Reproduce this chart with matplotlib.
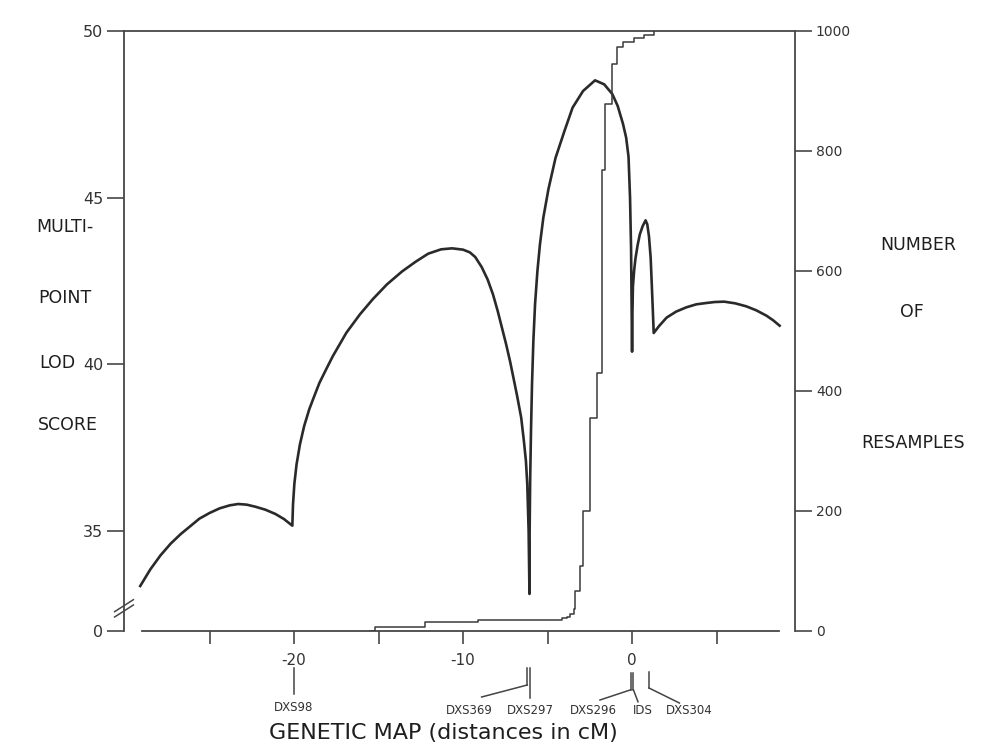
import numpy as np
import matplotlib.pyplot as plt

# multipoint LOD score along the map, one piece per marker interval (cM, LOD)
lod_x_1 = [-29.1, -28.5, -27.9, -27.3, -26.7, -26.1, -25.6, -25.0, -24.4, -23.8,
           -23.3, -22.8, -22.3, -21.7, -21.1, -20.6, -20.1]
lod_y_1 = [33.35, 33.85, 34.27, 34.62, 34.91, 35.16, 35.37, 35.54, 35.68, 35.77,
           35.81, 35.79, 35.73, 35.64, 35.51, 35.36, 35.16]
lod_x_2 = [-20.06, -19.98, -19.85, -19.65, -19.4, -19.1, -18.8, -18.5, -18.1, -17.7,
           -16.9, -16.1, -15.33, -14.5, -13.6, -12.8, -12.06, -11.3, -10.65, -10.0,
           -9.6, -9.28, -8.9, -8.55, -8.23, -7.95, -7.7, -7.45, -7.21, -7.0,
           -6.8, -6.56, -6.4, -6.28, -6.2, -6.12, -6.07]
lod_y_2 = [35.8, 36.42, 37.0, 37.6, 38.15, 38.65, 39.05, 39.44, 39.85, 40.25,
           40.95, 41.5, 41.96, 42.4, 42.79, 43.08, 43.32, 43.45, 43.48, 43.44,
           43.36, 43.22, 42.92, 42.55, 42.1, 41.6, 41.1, 40.6, 40.07, 39.55,
           39.05, 38.4, 37.7, 37.1, 36.4, 35.0, 33.11]
lod_x_3 = [-6.07, -6.06, -6.03, -5.98, -5.92, -5.84, -5.74, -5.6, -5.45, -5.25,
           -4.95, -4.53, -4.0, -3.52, -2.9, -2.19, -1.65, -1.17, -0.85, -0.54,
           -0.35, -0.21, -0.12, -0.06, 0.0]
lod_y_3 = [34.3, 35.0, 36.5, 38.0, 39.4, 40.7, 41.8, 42.8, 43.6, 44.4,
           45.25, 46.19, 47.0, 47.70, 48.2, 48.52, 48.4, 48.11, 47.75, 47.22,
           46.8, 46.23, 45.0, 43.5, 40.38]
lod_x_4 = [0.02, 0.05, 0.12, 0.2, 0.33, 0.46, 0.63, 0.8, 0.9, 1.0, 1.1, 1.17, 1.23, 1.28]
lod_y_4 = [41.5, 42.33, 42.8, 43.17, 43.58, 43.90, 44.15, 44.32, 44.2, 43.84, 43.2,
           42.35, 41.6, 40.94]
lod_x_5 = [1.6, 2.04, 2.6, 3.21, 3.8, 4.39, 4.9, 5.45, 6.1, 6.76, 7.35, 7.95, 8.35, 8.73]
lod_y_5 = [41.15, 41.40, 41.58, 41.71, 41.80, 41.84, 41.87, 41.88, 41.83, 41.74,
           41.62, 41.46, 41.32, 41.16]

# cumulative number of resamples (right axis)
resample_cm = [-15.5, -15.2, -12.25, -9.1, -4.14, -3.85, -3.67, -3.45, -3.38, -3.08,
               -2.9, -2.47, -2.05, -1.79, -1.63, -1.2, -0.92, -0.51, 0.13, 0.72, 1.31]
resample_n = [0, 6, 15, 19, 21, 24, 29, 37, 66, 108,
              200, 355, 430, 768, 878, 945, 974, 982, 988, 993, 1000]

x_ticks = [-25, -20, -15, -10, -5, 0, 5]
x_ticklabels = ['', '-20', '', '-10', '', '0', '']
lod_ticks = [32, 35, 40, 45, 50]      # 32 is where the broken axis reads 0
lod_ticklabels = ['0', '35', '40', '45', '50']
n_ticks = [0, 200, 400, 600, 800, 1000]

# markers under the axis: name, label x (cM)
marker_names = ['DXS98', 'DXS369', 'DXS297', 'DXS296', 'IDS', 'DXS304']
marker_label_x = [-20.0, -9.6, -6.0, -2.3, 0.65, 3.4]

W, H = 981, 754
ink = '#2a2a2a'
axc = '#474747'

fig = plt.figure(figsize=(W / 100, H / 100), dpi=100)
ax = fig.add_axes([124 / W, 1 - 631 / H, 671 / W, 600 / H])
ax2 = ax.twinx()

lod_x = lod_x_1 + lod_x_2 + lod_x_3 + lod_x_4 + lod_x_5
lod_y = lod_y_1 + lod_y_2 + lod_y_3 + lod_y_4 + lod_y_5
ax.plot(lod_x, lod_y, color=ink, lw=1.9, solid_joinstyle='round')
ax2.plot(resample_cm, resample_n, color='#3a3a3a', lw=1.1, drawstyle='steps-post')

ax.set_xlim(-30.06, 9.64)
ax.set_ylim(32, 50)
ax2.set_ylim(0, 1000)

for s in ['top', 'left', 'bottom']:
    ax.spines[s].set_color(axc)
    ax.spines[s].set_linewidth(1.3)
ax.spines['right'].set_visible(False)
ax.spines['bottom'].set_bounds(-29.0, 8.7)
for s in ['top', 'left', 'bottom']:
    ax2.spines[s].set_visible(False)
ax2.spines['right'].set_color(axc)
ax2.spines['right'].set_linewidth(1.3)

ax.set_xticks(x_ticks, x_ticklabels)
ax.set_yticks(lod_ticks, lod_ticklabels)
ax2.set_yticks(n_ticks, [str(v) for v in n_ticks])
ax.tick_params(axis='x', direction='out', length=9, width=1.2, pad=7,
               labelsize=11, color=axc, labelcolor='#333333')
ax.tick_params(axis='y', direction='out', length=12, width=1.2, pad=3,
               labelsize=11.5, color=axc, labelcolor='#333333')
ax2.tick_params(axis='y', direction='out', length=12, width=1.2, pad=3,
                labelsize=10, color=axc, labelcolor='#333333')

# axis break on the LOD scale
yt = ax.get_yaxis_transform()
for off in [0.0, 0.16]:
    ax.plot([-0.014, 0.014], [32.42 + off, 32.78 + off], transform=yt,
            color=axc, lw=1.1, clip_on=False)

# marker connectors below the map axis
xt = ax.get_xaxis_transform()
seg = dict(transform=xt, color='#444444', lw=1.1, clip_on=False)
ax.plot([-20.0, -20.0], [-0.062, -0.105], **seg)
ax.plot([-6.2, -6.2], [-0.062, -0.09], **seg)
ax.plot([-6.05, -6.05], [-0.062, -0.112], **seg)
ax.plot([-8.9, -6.2], [-0.11, -0.09], **seg)
ax.plot([-0.08, -0.08], [-0.07, -0.098], **seg)
ax.plot([0.08, 0.08], [-0.07, -0.098], **seg)
ax.plot([-0.08, -1.9], [-0.098, -0.115], **seg)
ax.plot([0.08, 0.35], [-0.098, -0.118], **seg)
ax.plot([1.0, 1.0], [-0.068, -0.095], **seg)
ax.plot([1.0, 2.8], [-0.095, -0.12], **seg)
for name, mx in zip(marker_names, marker_label_x):
    ax.text(mx, -0.133 if name != 'DXS98' else -0.128, name, transform=xt,
            ha='center', va='center', fontsize=8.5, color='#333333')

def ftext(x, y, s, size=12.5, ha='center'):
    fig.text(x / W, 1 - y / H, s, ha=ha, va='center', fontsize=size, color='#1e1e1e')

ftext(65, 227, 'MULTI-')
ftext(65, 298, 'POINT')
ftext(57, 363, 'LOD')
ftext(68, 425, 'SCORE')
ftext(918, 245, 'NUMBER')
ftext(912, 312, 'OF')
ftext(913, 443, 'RESAMPLES')
ftext(443, 733, 'GENETIC MAP (distances in cM)', size=16)

fig.savefig('out.png', dpi=100)
